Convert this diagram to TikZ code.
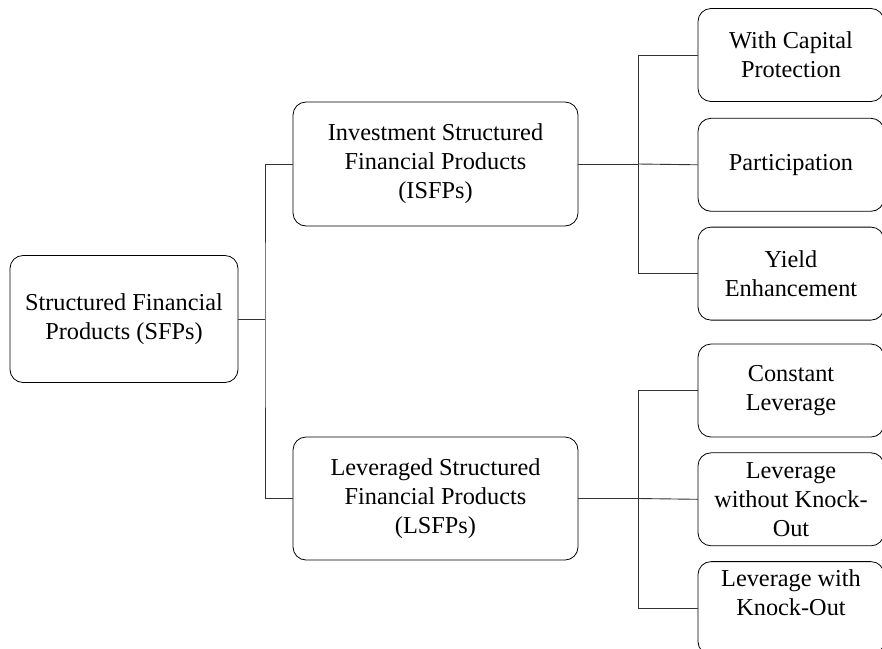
\documentclass[tikz,border=0pt]{standalone}
\usepackage{fontspec}
\setmainfont{Liberation Serif}
\usetikzlibrary{positioning}

\tikzset{
  catbox/.style={draw, thick, rounded corners=13pt, align=center, inner sep=0pt,
    font=\fontsize{24.3}{29}\selectfont},
  subbox/.style={catbox, minimum width=186pt, minimum height=93pt},
  link/.style={draw=black!80, line width=0.9pt}
}

\begin{document}
\begin{tikzpicture}[x=1pt, y=-1pt]

  \useasboundingbox (0,0) rectangle (882,648);

  \node[catbox, minimum width=228pt, minimum height=127pt] (sfp) at (124,319) {Structured Financial\\Products (SFPs)};

  \node[catbox, minimum width=285pt, minimum height=124pt] (isfp) at (435.5,164) {Investment Structured\\Financial Products\\(ISFPs)};
  \node[catbox, minimum width=285pt, minimum height=123pt] (lsfp) at (435.5,498.5) {Leveraged Structured\\Financial Products\\(LSFPs)};

  \node[subbox] (cap) at (791,55) {With Capital\\Protection};
  \node[subbox, below=16pt of cap] (part) {Participation};
  \node[subbox, below=15pt of part] (yield) {Yield\\Enhancement};

  \node[subbox] (const) at (791,390.5) {Constant\\Leverage};
  \node[subbox, below=15pt of const] (lwo) {Leverage\\without Knock-\\Out};
  \node[subbox, below=15pt of lwo, text depth=32pt] (lwk) {Leverage with\\Knock-Out};

  \coordinate (j1) at (265,319);
  \coordinate (j2) at (638,164);
  \coordinate (j3) at (638,498.5);

  \draw[link] (sfp.east) -- (j1);
  \draw[link] (isfp.west) -| (j1) |- (lsfp.west);

  \draw[link] (isfp.east) -- (j2);
  \draw[link] (cap.west) -| (j2) |- (yield.west);
  \draw[link] (part.west) -- (j2);

  \draw[link] (lsfp.east) -- (j3);
  \draw[link] (const.west) -| (j3) |- (lwk.west);
  \draw[link] (lwo.west) -- (j3);

\end{tikzpicture}
\end{document}
